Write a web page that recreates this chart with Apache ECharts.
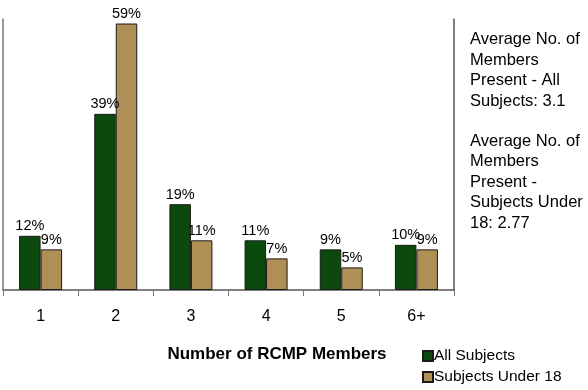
<!DOCTYPE html>
<html><head><meta charset="utf-8">
<script src="https://cdn.jsdelivr.net/npm/echarts@6/dist/echarts.min.js"></script>
<style>html,body{margin:0;padding:0;background:#fff}#c{width:588px;height:390px}</style>
</head><body><div id="c"></div>
<script>
const categories = ['1','2','3','4','5','6+'];
const allSubjects = [12,39,19,11,9,10];
const under18 = [9,59,11,7,5,9];
const seriesNames = ['All Subjects','Subjects Under 18'];
const sideText1 = ['Average No. of','Members','Present - All','Subjects: 3.1'];
const sideText2 = ['Average No. of','Members','Present -','Subjects Under','18: 2.77'];

const FONT = '"Liberation Sans", Arial, sans-serif';
const chart = echarts.init(document.getElementById('c'));
const lbl = {show:true,position:'top',distance:2,formatter:'{c}%',color:'#000',fontSize:14.5,fontFamily:FONT};
chart.setOption({
  animation:false,
  grid:{left:3,right:134,top:19,bottom:100,containLabel:false},
  legend:{orient:'vertical',left:417,top:343,itemWidth:10,itemHeight:10,itemGap:5,
    icon:'rect',textStyle:{fontSize:15.5,fontFamily:FONT,color:'#000',padding:[0,0,0,-4]},
    data:seriesNames},
  xAxis:{type:'category',data:categories,
    name:'Number of RCMP Members',nameLocation:'middle',nameGap:56,
    nameTextStyle:{fontSize:17,fontWeight:'bold',fontFamily:FONT,color:'#000',padding:[0,0,0,97]},
    axisLine:{lineStyle:{color:'#555',width:1.5}},
    axisTick:{show:true,length:6,lineStyle:{color:'#777'}},
    axisLabel:{fontSize:16,fontFamily:FONT,color:'#000',margin:19}},
  yAxis:[{type:'value',min:0,max:60,axisLabel:{show:false},splitLine:{show:false},
    axisTick:{show:false},axisLine:{show:true,lineStyle:{color:'#777',width:1.5}}},
    {type:'value',min:0,max:60,position:'right',axisLabel:{show:false},splitLine:{show:false},
    axisTick:{show:false},axisLine:{show:true,lineStyle:{color:'#555',width:1.5}}}],
  series:[
    {name:seriesNames[0],type:'bar',data:allSubjects,barWidth:21.5,barGap:'0%',
     itemStyle:{color:'#0b4a0c',borderColor:'#1a1a1a',borderWidth:1},label:lbl},
    {name:seriesNames[1],type:'bar',data:under18,barWidth:21.5,
     itemStyle:{color:'#b08f57',borderColor:'#1a1a1a',borderWidth:1},label:lbl}
  ],
  graphic:[
    {type:'text',left:470,top:29,style:{text:sideText1.join('\n'),font:'16.5px '+FONT,lineHeight:20.7,fill:'#000'}},
    {type:'text',left:470,top:131,style:{text:sideText2.join('\n'),font:'16.5px '+FONT,lineHeight:20.5,fill:'#000'}}
  ]
});
</script></body></html>
